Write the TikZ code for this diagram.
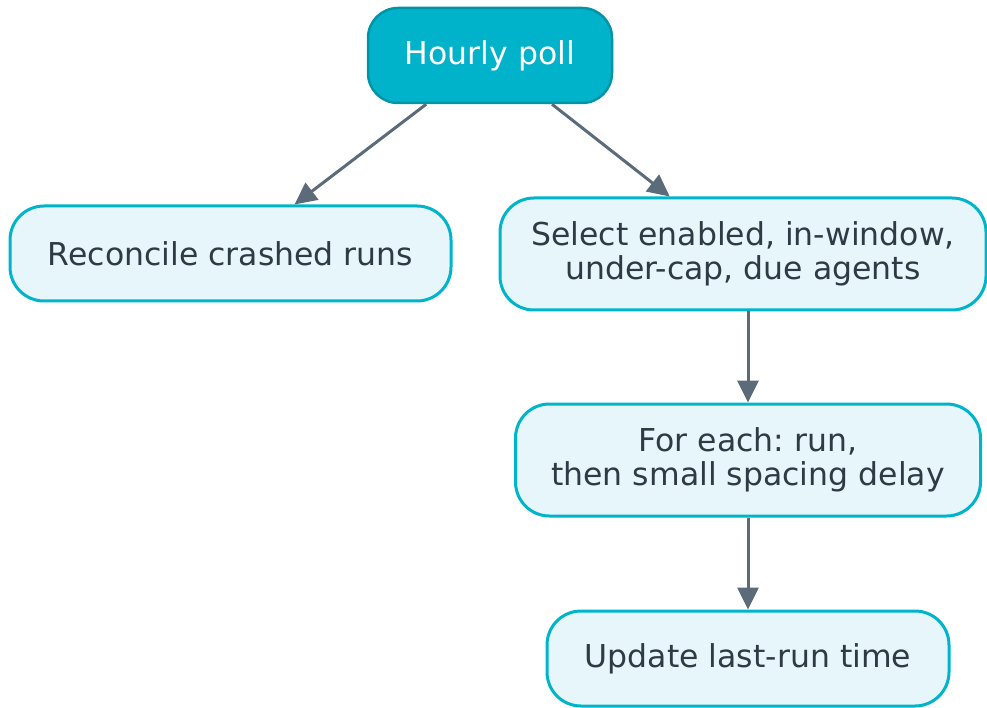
\documentclass[tikz,border=0pt]{standalone}
\usepackage{fontspec}
\setmainfont{DejaVu Sans}
\usetikzlibrary{arrows.meta}
\definecolor{topfill}{HTML}{00B2CA}
\definecolor{topdraw}{HTML}{0094A7}
\definecolor{boxfill}{HTML}{E7F6FA}
\definecolor{boxdraw}{HTML}{00B4CB}
\definecolor{arrowcol}{HTML}{5B6B79}
\definecolor{txtcol}{HTML}{2E3A44}
\tikzset{
  topbox/.style={draw=topdraw, fill=topfill, line width=2.5pt, rounded corners=30pt,
    text=white, font=\fontsize{31.5}{34}\selectfont, align=center, inner sep=0pt},
  flowbox/.style={draw=boxdraw, fill=boxfill, line width=3pt, rounded corners=34pt,
    text=txtcol, font=\fontsize{31.5}{34}\selectfont, align=center, inner sep=0pt},
  conn/.style={draw=arrowcol, line width=3pt, -{Triangle[length=22pt,width=21pt]}}
}
\begin{document}
\frenchspacing
\begin{tikzpicture}[x=1pt,y=-1pt]
\useasboundingbox (0,0) rectangle (987,708);
\node[topbox, minimum width=244pt, minimum height=95pt] (poll) at (490,55.5) {Hourly poll};
\node[flowbox, minimum width=441pt, minimum height=95pt] (rec) at (230.5,253.5) {Reconcile crashed runs};
\node[flowbox, minimum width=486pt, minimum height=112pt] (sel) at (743,254) {Select enabled, in-window,\\under-cap, due agents};
\node[flowbox, minimum width=465pt, minimum height=112pt] (each) at (748,460) {For each: run,\\then small spacing delay};
\node[flowbox, minimum width=402pt, minimum height=95pt] (upd) at (748,658.5) {Update last-run time};
\draw[conn] (poll) -- (rec);
\draw[conn] (poll) -- (sel);
\draw[conn] (sel.south -| each.north) -- (each.north);
\draw[conn] (each.south) -- (upd.north);
\end{tikzpicture}
\end{document}
